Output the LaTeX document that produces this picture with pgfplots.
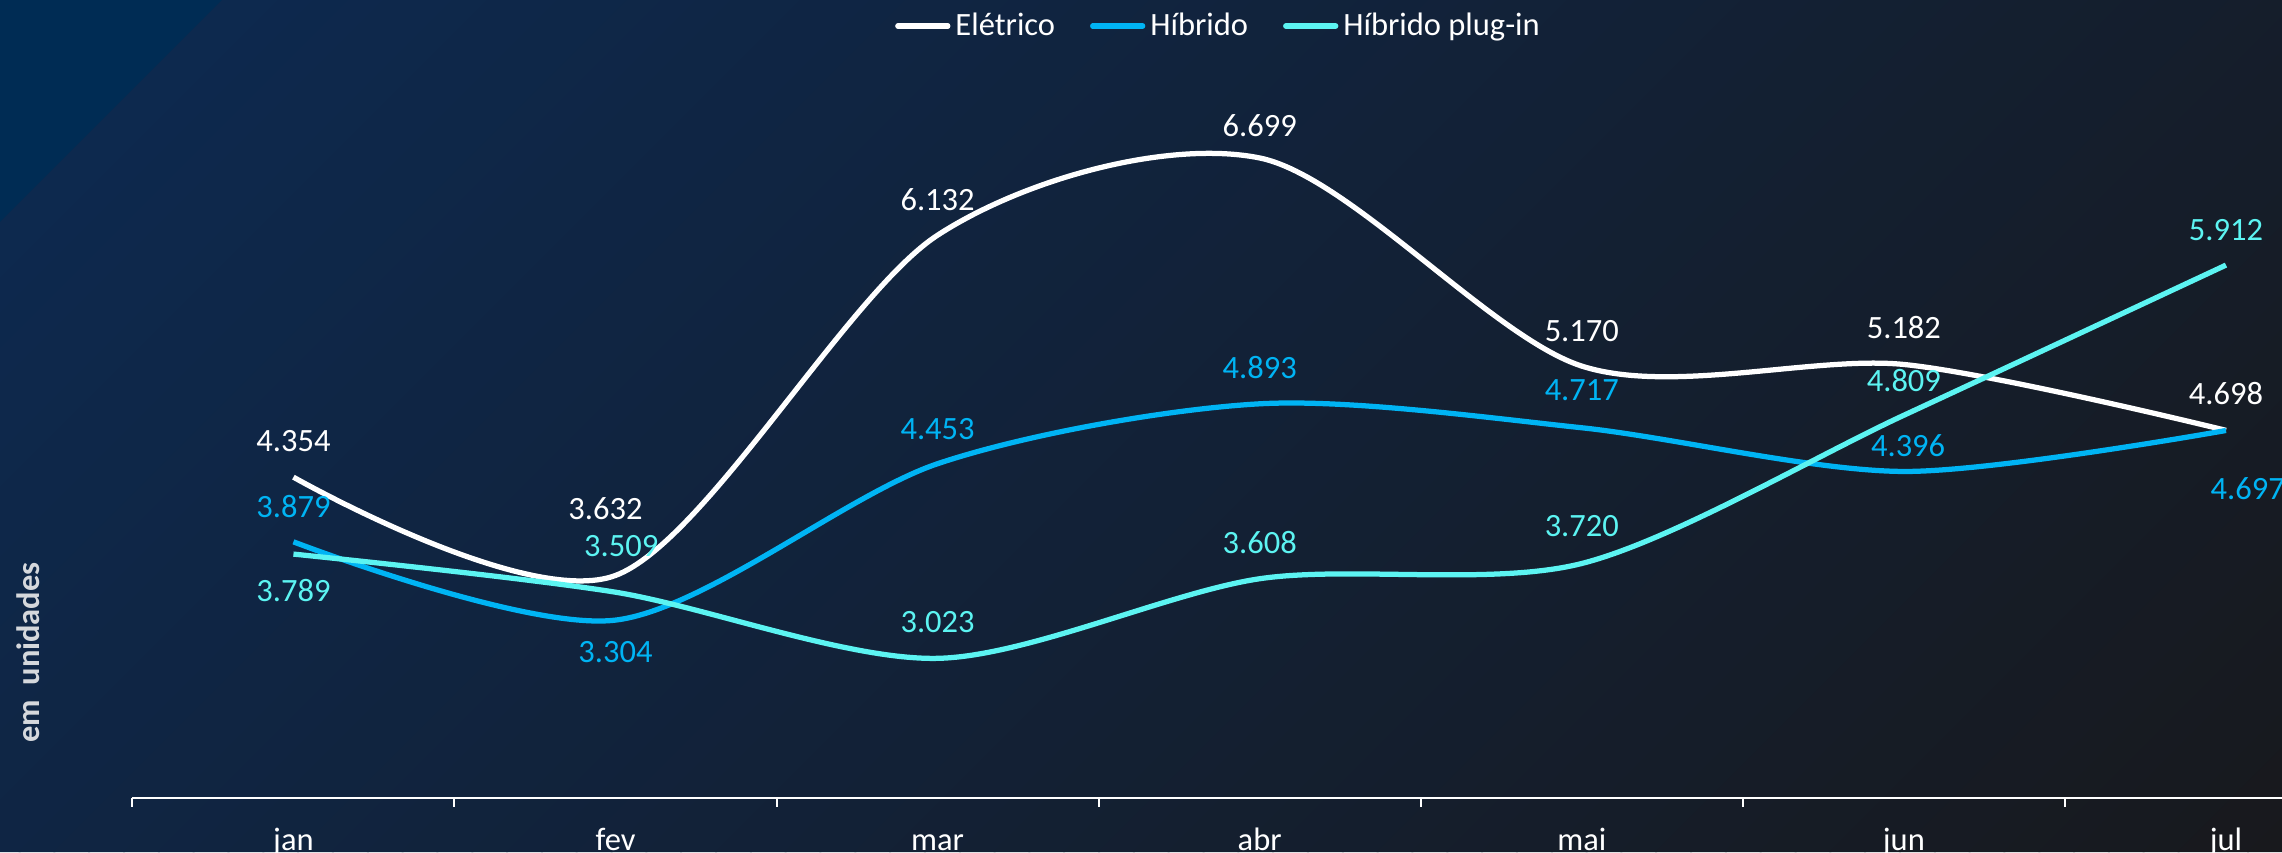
\documentclass[border=0pt]{standalone}
\usepackage{pgfplots}
\usepackage{pgfplotstable}
\pgfplotsset{compat=1.18}
\usepackage{fontspec}
\setmainfont{Carlito}
\definecolor{bgA}{HTML}{0C2A52}
\definecolor{bgB}{HTML}{18191D}
\definecolor{corner}{HTML}{002C54}
\definecolor{hib}{HTML}{00B4F4}
\definecolor{plug}{HTML}{5CF4F2}
\definecolor{ylab}{HTML}{D5D8DC}
\newcommand\lf{\fontsize{13}{15.5}\selectfont}

\pgfplotstableread{
x y lab dx dy
0 4354 4.354 0 14.6
1 3632 3.632 -4 26.8
2 6132 6.132 0 14
3 6699 6.699 0 12.8
4 5170 5.170 0 14
5 5182 5.182 0 14.6
6 4698 4.698 0 14.6
}\eletrico
\pgfplotstableread{
x y lab dx dy
0 3879 3.879 0 14
1 3304 3.304 0 -12.8
2 4453 4.453 0 14
3 4893 4.893 0 14.6
4 4717 4.717 0 15
5 4396 4.396 1.7 10.5
6 4697 4.697 8.7 -23.3
}\hibrido
\pgfplotstableread{
x y lab dx dy
0 3789 3.789 0 -14.6
1 3509 3.509 2.3 18.6
2 3023 3.023 0 14.6
3 3608 3.608 0 14.6
4 3720 3.720 0 15
5 4809 4.809 0 14
6 5912 5.912 0 14
}\plugin

\begin{document}
\begin{tikzpicture}
\useasboundingbox (0,0) rectangle (912.8pt,340.8pt);
\begin{scope}
\clip (0,0) rectangle (912.8pt,340.8pt);
\foreach \i in {0,...,89}{
  \pgfmathsetmacro\a{13.928889*\i}
  \pgfmathsetmacro\b{13.928889*\i+14.73}
  \pgfmathsetmacro\aa{\a-340.8}
  \pgfmathsetmacro\bb{\b-340.8}
  \pgfmathsetmacro\p{(\i+0.5)*1.111111}
  \colorlet{bgc}{bgB!\p!bgA}
  \fill[bgc] (\aa pt,0pt) -- (\a pt,340.8pt) -- (\b pt,340.8pt) -- (\bb pt,0pt) -- cycle;
}
\fill[corner] (0pt,340.8pt) -- (88.8pt,340.8pt) -- (0pt,252pt) -- cycle;
\end{scope}
\begin{axis}[
  at={(52.96pt,21.76pt)}, anchor=south west,
  scale only axis, width=859.84pt, height=315.8pt,
  xmin=-0.5, xmax=6.174, ymin=2000, ymax=7800,
  axis x line*=bottom, axis y line=none,
  x axis line style={white, line width=0.8pt, -},
  xtick={0,...,6}, xticklabels={jan,fev,mar,abr,mai,jun,jul},
  minor xtick={-0.5,0.5,...,5.5},
  major tick length=0pt, minor tick length=3.6pt, tick align=outside,
  minor tick style={white, line width=0.8pt},
  major tick style={draw=none},
  xticklabel style={font=\lf, text=white, anchor=base, yshift=-21.3pt},
  ytick=\empty,
  clip=false,
  legend columns=-1,
  legend style={at={(0.5048,0.9773)}, anchor=center, draw=none, fill=none,
    font=\lf, text=white, inner sep=0pt, nodes={inner sep=0pt},
    /tikz/every even column/.append style={column sep=14pt},
    /tikz/every odd column/.append style={column sep=2pt}},
  legend image code/.code={\draw[#1, line cap=round] (0pt,0pt) -- (20pt,0pt);},
  every axis plot/.append style={line width=2.1pt, smooth, tension=0.5},
]
\addplot[white, no marks] table[x=x, y=y] {\eletrico};
\addlegendentry{Elétrico}
\addplot[hib, no marks] table[x=x, y=y] {\hibrido};
\addlegendentry{Híbrido}
\addplot[plug, no marks] table[x=x, y=y] {\plugin};
\addlegendentry{Híbrido plug-in}

\addplot[forget plot, draw=none, no marks, point meta=explicit symbolic,
  visualization depends on={\thisrow{dx} \as \dx},
  visualization depends on={\thisrow{dy} \as \dy},
  nodes near coords,
  every node near coord/.append style={anchor=center, font=\lf, text=white, xshift=\dx pt, yshift=\dy pt, inner sep=0pt}]
  table[x=x, y=y, meta=lab] {\eletrico};
\addplot[forget plot, draw=none, no marks, point meta=explicit symbolic,
  visualization depends on={\thisrow{dx} \as \dx},
  visualization depends on={\thisrow{dy} \as \dy},
  nodes near coords,
  every node near coord/.append style={anchor=center, font=\lf, text=hib, xshift=\dx pt, yshift=\dy pt, inner sep=0pt}]
  table[x=x, y=y, meta=lab] {\hibrido};
\addplot[forget plot, draw=none, no marks, point meta=explicit symbolic,
  visualization depends on={\thisrow{dx} \as \dx},
  visualization depends on={\thisrow{dy} \as \dy},
  nodes near coords,
  every node near coord/.append style={anchor=center, font=\lf, text=plug, xshift=\dx pt, yshift=\dy pt, inner sep=0pt}]
  table[x=x, y=y, meta=lab] {\plugin};
\end{axis}
\node[rotate=90, font=\bfseries\lf, text=ylab] at (11.2pt,79.8pt) {em\hspace{0.45em}unidades};
\end{tikzpicture}
\end{document}
